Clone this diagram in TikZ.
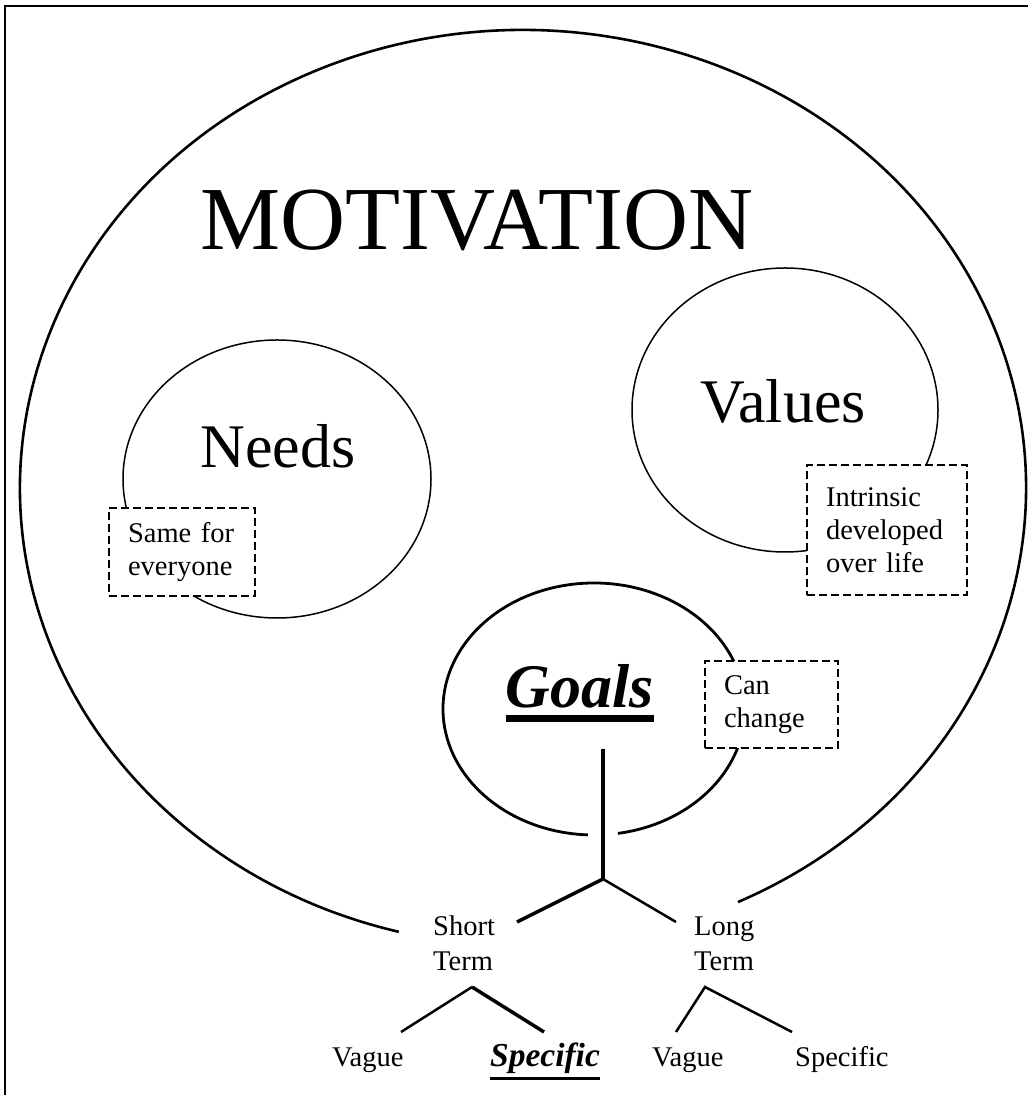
\documentclass[tikz,border=0pt]{standalone}
\usepackage{fontspec}
\setmainfont{Liberation Serif}
\usetikzlibrary{shapes.geometric,calc}
\begin{document}
\begin{tikzpicture}[x=1pt,y=1pt,
  thinell/.style={draw,ellipse,line width=1.5pt,inner sep=0pt},
  note/.style={draw,dash pattern=on 8pt off 4pt,line width=2.5pt,fill=white,
    align=left,inner xsep=19pt,inner ysep=0pt,
    font=\fontsize{28.5}{33}\selectfont},
  big/.style={inner sep=0pt,font=\fontsize{62}{62}\selectfont},
  small/.style={inner sep=0pt,font=\fontsize{28.5}{35}\selectfont},
  treeline/.style={line width=2.5pt},
  heavyline/.style={line width=3.5pt}]
\useasboundingbox (0,0) rectangle (1028,1095);
% frame
\draw[line width=1.5pt] (5,0) -- (5,1089) -- (1028,1089);
% big ellipse
\coordinate (mc) at (523,607);
\draw[line width=2.6pt] (mc) ++(-64.7:503pt and 458pt)
  arc[start angle=-64.7,end angle=255.7,x radius=503pt,y radius=458pt];
\node[anchor=base,inner sep=0pt,font=\fontsize{90}{90}\selectfont] (motiv) at (477,845) {MOTIVATION};
% needs / values
\node[thinell,minimum width=308pt,minimum height=278pt] (needsC) at (277,616) {};
\node[thinell,minimum width=306pt,minimum height=284pt] (valuesC) at (785,685) {};
\node[big,anchor=base] (needs) at (278,627) {Needs};
\node[big,anchor=base] (values) at (783,672) {Values};
% goals circle with gap
\coordinate (gc) at (594,386);
\draw[line width=2.8pt] (gc) ++(-80.9:151pt and 126pt)
  arc[start angle=-80.9,end angle=267.7,x radius=151pt,y radius=126pt];
\node[big,anchor=base,font=\fontsize{62}{62}\selectfont\bfseries\itshape] (goals) at (580,387) {Goals};
\draw[line width=6.5pt] ($(goals.base west)+(0,-10.5)$) -- ($(goals.base east)+(0,-10.5)$);
% notes
\node[note,text width=108pt,minimum height=88pt] (same) at (182,543) {Same for\\everyone};
\node[note,text width=122pt,minimum height=130pt] (intr) at (887,565) {Intrinsic\\developed\\over life};
\node[note,text width=95pt,minimum height=87pt] (can) at (771.5,390.5) {Can\\change};
% tree
\coordinate (gtop) at (603,346);
\coordinate (junc) at (603,216);
\coordinate (stEnd) at (517,173);
\coordinate (ltEnd) at (676,173);
\draw[heavyline] (gtop) -- (junc);
\draw[heavyline] (junc) -- (stEnd);
\draw[treeline] (junc) -- (ltEnd);
\node[small,anchor=base west,align=left] (short) at (433,124) {Short\\Term};
\node[small,anchor=base west,align=left] (long) at (694,124) {Long\\Term};
\coordinate (sa) at (472,108);
\coordinate (sl) at (401,63);
\coordinate (sr) at (544,63);
\coordinate (la) at (705,108);
\coordinate (ll) at (676,63);
\coordinate (lr) at (792,63);
\draw[treeline] (sl) -- (sa);
\draw[heavyline] (sa) -- (sr);
\draw[treeline] (ll) -- (la) -- (lr);
\node[small,anchor=base west] (v1) at (332,28) {Vague};
\node[anchor=base,inner sep=0pt,font=\fontsize{33.5}{33.5}\selectfont\bfseries\itshape] (s1) at (545,28) {Specific};
\draw[line width=3.5pt] ($(s1.base west)+(0,-11.5)$) -- ($(s1.base east)+(0,-11.5)$);
\node[small,anchor=base west] (v2) at (652,28) {Vague};
\node[small,anchor=base west] (s2) at (795,28) {Specific};
\end{tikzpicture}
\end{document}
